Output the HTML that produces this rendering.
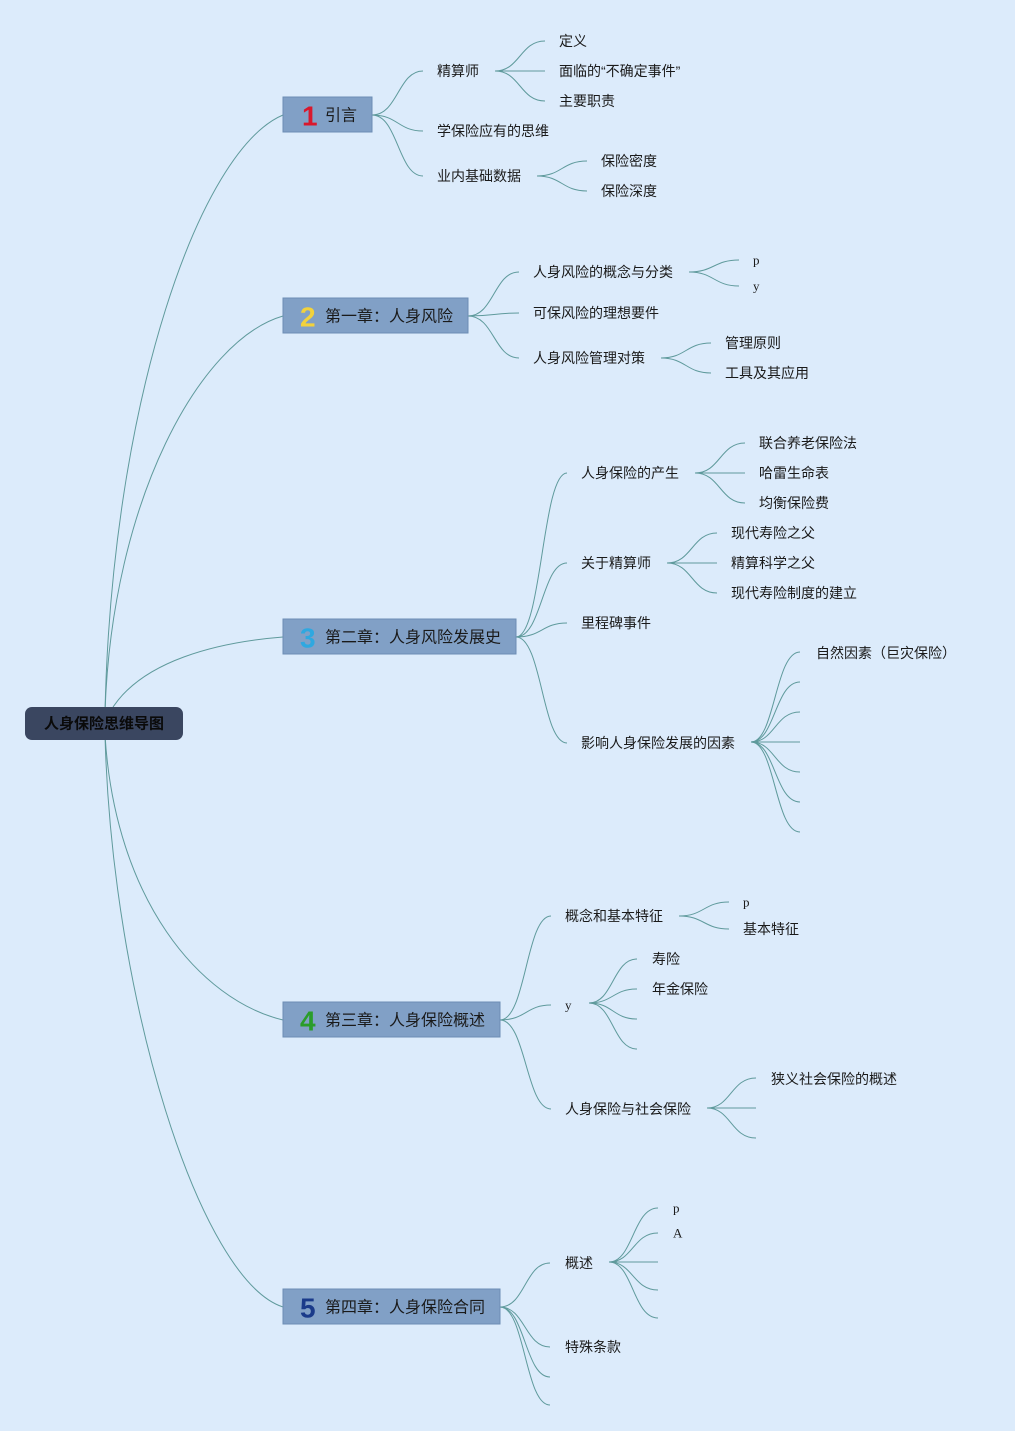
<!DOCTYPE html>
<html><head><meta charset="utf-8"><style>
html,body{margin:0;padding:0;background:#dcebfb;}
svg{display:block}
text{font-family:"Liberation Sans","Noto Sans CJK SC",sans-serif;font-size:14px;fill:#1a1a1a;dominant-baseline:central}
.s{font-family:"Liberation Serif",serif;font-size:13px}
.c{font-size:16px}
.n{font-size:28px;font-weight:bold}
path{fill:none;stroke:#5f9a9c;stroke-width:1}
</style></head><body>
<svg width="1015" height="1431" viewBox="0 0 1015 1431">
<rect width="1015" height="1431" fill="#dcebfb"/>
<path d="M105 712 C112 400 200 150 283 115"/>
<path d="M105 712 C112 500 200 340 283 316"/>
<path d="M110 712 C140 660 220 642 283 637"/>
<path d="M105 735 C115 900 200 1000 283 1020"/>
<path d="M105 735 C112 1000 200 1280 283 1307"/>
<path d="M372 115 C398 115 398 71 423 71"/>
<path d="M372 115 C398 115 398 131 423 131"/>
<path d="M372 115 C398 115 398 176 423 176"/>
<path d="M495 71 C520 71 520 41 545 41"/>
<path d="M495 71 L545 71"/>
<path d="M495 71 C520 71 520 101 545 101"/>
<path d="M537 176 C562 176 562 161 587 161"/>
<path d="M537 176 C562 176 562 191 587 191"/>
<path d="M468 316 C494 316 494 272 519 272"/>
<path d="M468 316 C494 316 494 313 519 313"/>
<path d="M468 316 C494 316 494 358 519 358"/>
<path d="M689 272 C714 272 714 260 739 260"/>
<path d="M689 272 C714 272 714 286 739 286"/>
<path d="M661 358 C686 358 686 343 711 343"/>
<path d="M661 358 C686 358 686 373 711 373"/>
<path d="M516 637 C542 637 542 473 567 473"/>
<path d="M516 637 C542 637 542 563 567 563"/>
<path d="M516 637 C542 637 542 623 567 623"/>
<path d="M516 637 C542 637 542 743 567 743"/>
<path d="M695 473 C720 473 720 443 745 443"/>
<path d="M695 473 L745 473"/>
<path d="M695 473 C720 473 720 503 745 503"/>
<path d="M667 563 C692 563 692 533 717 533"/>
<path d="M667 563 L717 563"/>
<path d="M667 563 C692 563 692 593 717 593"/>
<path d="M751 742 C775 742 775 652 800 652"/>
<path d="M751 742 C775 742 775 682 800 682"/>
<path d="M751 742 C775 742 775 712 800 712"/>
<path d="M751 742 L800 742"/>
<path d="M751 742 C775 742 775 772 800 772"/>
<path d="M751 742 C775 742 775 802 800 802"/>
<path d="M751 742 C775 742 775 832 800 832"/>
<path d="M500 1020 C526 1020 526 916 551 916"/>
<path d="M500 1020 C526 1020 526 1005 551 1005"/>
<path d="M500 1020 C526 1020 526 1109 551 1109"/>
<path d="M679 916 C704 916 704 902 729 902"/>
<path d="M679 916 C704 916 704 929 729 929"/>
<path d="M589 1003 C613 1003 613 959 637 959"/>
<path d="M589 1003 C613 1003 613 989 637 989"/>
<path d="M589 1003 C613 1003 613 1019 637 1019"/>
<path d="M589 1003 C613 1003 613 1049 637 1049"/>
<path d="M707 1108 C731 1108 731 1078 756 1078"/>
<path d="M707 1108 L756 1108"/>
<path d="M707 1108 C731 1108 731 1138 756 1138"/>
<path d="M500 1307 C525 1307 525 1263 550 1263"/>
<path d="M500 1307 C525 1307 525 1347 550 1347"/>
<path d="M500 1307 C525 1307 525 1377 550 1377"/>
<path d="M500 1307 C525 1307 525 1405 550 1405"/>
<path d="M609 1262 C633 1262 633 1208 658 1208"/>
<path d="M609 1262 C633 1262 633 1233 658 1233"/>
<path d="M609 1262 L658 1262"/>
<path d="M609 1262 C633 1262 633 1290 658 1290"/>
<path d="M609 1262 C633 1262 633 1318 658 1318"/>

<rect x="25" y="707" width="158" height="33" rx="7" fill="#3a4660"/>
<text x="104" y="724" text-anchor="middle" style="fill:#0a0a0a;font-size:15px;font-weight:bold">人身保险思维导图</text>

<g fill="#81a0c6" stroke="#6d8db4">
<rect x="283" y="97" width="89" height="35"/>
<rect x="283" y="298" width="185" height="35"/>
<rect x="283" y="619" width="233" height="35"/>
<rect x="283" y="1002" width="217" height="35"/>
<rect x="283" y="1289" width="217" height="35"/>
</g>
<text class="n" x="302" y="116" style="fill:#d9182d">1</text><text class="c" x="325" y="116">引言</text>
<text class="n" x="300" y="317" style="fill:#f2d23c">2</text><text class="c" x="325" y="317">第一章：人身风险</text>
<text class="n" x="300" y="638" style="fill:#2fa8e0">3</text><text class="c" x="325" y="638">第二章：人身风险发展史</text>
<text class="n" x="300" y="1021" style="fill:#2a9d2a">4</text><text class="c" x="325" y="1021">第三章：人身保险概述</text>
<text class="n" x="300" y="1308" style="fill:#1a3a8a">5</text><text class="c" x="325" y="1308">第四章：人身保险合同</text>

<text x="437" y="71">精算师</text>
<text x="437" y="131">学保险应有的思维</text>
<text x="437" y="176">业内基础数据</text>
<text x="559" y="41">定义</text>
<text x="559" y="71">面临的“不确定事件”</text>
<text x="559" y="101">主要职责</text>
<text x="601" y="161">保险密度</text>
<text x="601" y="191">保险深度</text>
<text x="533" y="272">人身风险的概念与分类</text>
<text x="533" y="313">可保风险的理想要件</text>
<text x="533" y="358">人身风险管理对策</text>
<text class="s" x="753" y="260">p</text>
<text class="s" x="753" y="286">y</text>
<text x="725" y="343">管理原则</text>
<text x="725" y="373">工具及其应用</text>
<text x="581" y="473">人身保险的产生</text>
<text x="581" y="563">关于精算师</text>
<text x="581" y="623">里程碑事件</text>
<text x="581" y="743">影响人身保险发展的因素</text>
<text x="759" y="443">联合养老保险法</text>
<text x="759" y="473">哈雷生命表</text>
<text x="759" y="503">均衡保险费</text>
<text x="731" y="533">现代寿险之父</text>
<text x="731" y="563">精算科学之父</text>
<text x="731" y="593">现代寿险制度的建立</text>
<text x="816" y="653">自然因素（巨灾保险）</text>
<text x="565" y="916">概念和基本特征</text>
<text class="s" x="565" y="1005">y</text>
<text x="565" y="1109">人身保险与社会保险</text>
<text class="s" x="743" y="902">p</text>
<text x="743" y="929">基本特征</text>
<text x="652" y="959">寿险</text>
<text x="652" y="989">年金保险</text>
<text x="771" y="1079">狭义社会保险的概述</text>
<text x="565" y="1263">概述</text>
<text x="565" y="1347">特殊条款</text>
<text class="s" x="673" y="1208">p</text>
<text class="s" x="673" y="1233">A</text>
</svg>
</body></html>
